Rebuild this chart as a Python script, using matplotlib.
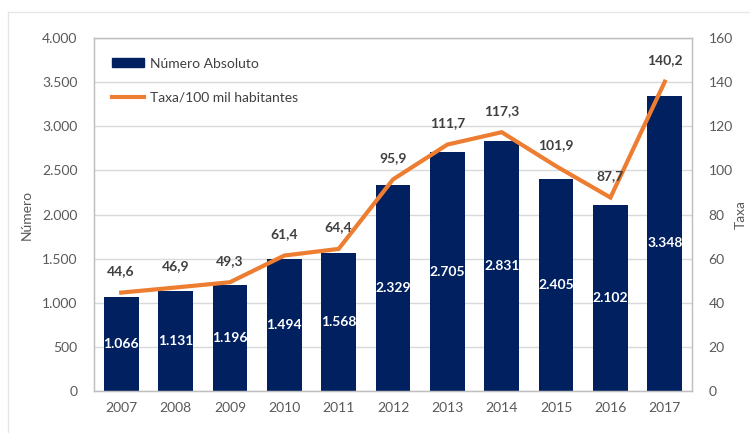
import matplotlib
matplotlib.use("Agg")
import matplotlib.pyplot as plt
from matplotlib.lines import Line2D
import numpy as np

years = ["2007", "2008", "2009", "2010", "2011", "2012", "2013", "2014", "2015", "2016", "2017"]
numero = [1066, 1131, 1196, 1494, 1568, 2329, 2705, 2831, 2405, 2102, 3348]
taxa = [44.6, 46.9, 49.3, 61.4, 64.4, 95.9, 111.7, 117.3, 101.9, 87.7, 140.2]
left_ticks = [0, 500, 1000, 1500, 2000, 2500, 3000, 3500, 4000]
right_ticks = [0, 20, 40, 60, 80, 100, 120, 140, 160]

plt.rcParams['font.family'] = ['Lato', 'DejaVu Sans']

BAR = "#002060"
LINE = "#ED7D31"
GRID = "#D9D9D9"
TXT = "#595959"
LBL = "#404040"

def fmt_int(v):
    return f"{v:,}".replace(",", ".")

def fmt_dec(v):
    return f"{v:.1f}".replace(".", ",")

fig = plt.figure(figsize=(7.5, 4.33), dpi=100)
ax = fig.add_axes([94/750, 1-391/433, (692-94)/750, (391-38)/433])
x = np.arange(len(years))
bars = ax.bar(x, numero, width=0.64, color=BAR, zorder=2, label="Número Absoluto")
ax.set_ylim(0, 4000)
ax.set_xlim(-0.5, len(years)-0.5)
ax.set_yticks(left_ticks)
ax.set_yticklabels([fmt_int(v) for v in left_ticks])
ax.set_xticks(x)
ax.set_xticklabels(years)
ax.grid(axis='y', color=GRID, linewidth=1, zorder=0)
ax.set_axisbelow(True)
for s in ax.spines.values():
    s.set_color("#BFBFBF")
    s.set_linewidth(1)
ax.tick_params(axis='both', length=0, colors=TXT, labelsize=10)
ax.tick_params(axis='y', pad=12)
ax.tick_params(axis='x', pad=8)
ax.set_ylabel("Número", color=TXT, fontsize=10)
ax.yaxis.set_label_coords((33-94)/598, 0.5)

for xi, v in zip(x, numero):
    ax.text(xi, v/2, fmt_int(v), ha='center', va='center', color='white',
            fontsize=10, fontweight='bold', zorder=4)

ax2 = ax.twinx()
ax2.plot(x, taxa, color=LINE, linewidth=3, zorder=3, solid_joinstyle='miter')
ax2.set_ylim(0, 160)
ax2.set_yticks(right_ticks)
ax2.set_yticklabels([str(v) for v in right_ticks])
ax2.tick_params(axis='y', length=0, colors=TXT, labelsize=10, pad=12)
for s in ax2.spines.values():
    s.set_color("#BFBFBF")
ax2.set_ylabel("Taxa", color=TXT, fontsize=10, rotation=90, va='center')
ax2.yaxis.set_label_coords((741-94)/598, 0.5)

for xi, v in zip(x, taxa):
    ax2.annotate(fmt_dec(v), (xi, v), xytext=(0, 15.5), textcoords='offset points',
                 ha='center', va='center', color=LBL, fontsize=10, fontweight='bold')

handles = [plt.Rectangle((0, 0), 1, 1, color=BAR),
           Line2D([0], [0], color=LINE, linewidth=3)]
leg = ax.legend(handles, ["Número Absoluto", "Taxa/100 mil habitantes"],
                loc='upper left', bbox_to_anchor=(0.01, 0.98), frameon=False,
                fontsize=10, labelspacing=1.6, handlelength=2.3, handleheight=0.6,
                handletextpad=0.4, labelcolor=LBL)

fig.add_artist(Line2D([8/750, 8/750], [0, 1-12/433], color="#E6E6E6", linewidth=1, transform=fig.transFigure))
fig.add_artist(Line2D([8/750, 1], [1-12/433, 1-12/433], color="#E6E6E6", linewidth=1, transform=fig.transFigure))

fig.savefig("out.png", dpi=100)
